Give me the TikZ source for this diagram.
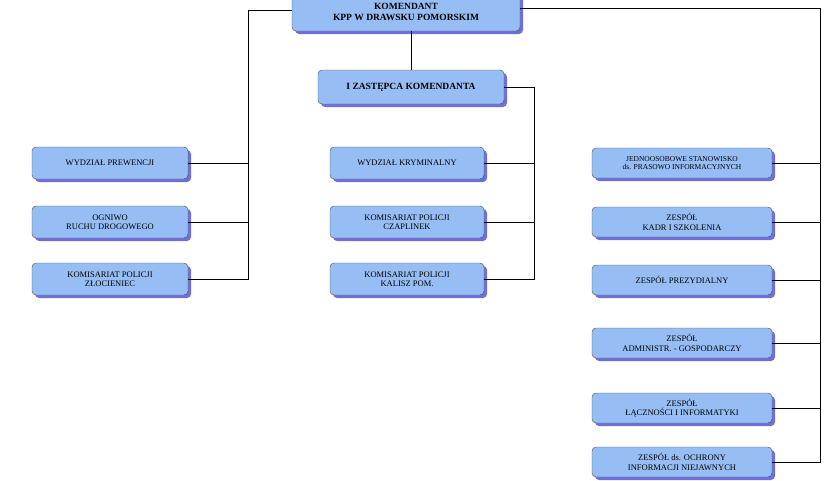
\documentclass[tikz,border=0pt]{standalone}
\usepackage{fontspec}
\setmainfont{Liberation Serif}
\usetikzlibrary{shadows}
\definecolor{boxfill}{RGB}{150,190,245}
\definecolor{boxshadow}{RGB}{110,110,220}
\tikzset{
  unit/.style={draw=black!70, fill=boxfill, rounded corners=4pt, align=center,
    font=\fontsize{8.5}{9.5}\selectfont, minimum height=32pt, inner sep=2pt,
    drop shadow={shadow xshift=3pt, shadow yshift=-3pt, fill=boxshadow, opacity=1}},
  lunit/.style={unit, minimum width=156pt},
  munit/.style={unit, minimum width=154pt},
  runit/.style={unit, minimum width=180pt, minimum height=30pt},
  link/.style={draw=black, line width=0.9pt}
}
\begin{document}
\begin{tikzpicture}[x=1pt,y=-1pt]
  \useasboundingbox (0,0) rectangle (840,480);

  \node[unit, minimum width=228pt, minimum height=38pt, font=\fontsize{9.5}{10.5}\selectfont\bfseries] (kom) at (406,12) {KOMENDANT\\KPP W DRAWSKU POMORSKIM};
  \node[unit, minimum width=186pt, minimum height=34pt, font=\fontsize{9.5}{10.5}\selectfont\bfseries] (zast) at (411,87) {I ZASTĘPCA KOMENDANTA};

  % Left column
  \node[lunit] (prew) at (110,163) {WYDZIAŁ PREWENCJI};
  \node[lunit] (ogn) at (110,222) {OGNIWO\\RUCHU DROGOWEGO};
  \node[lunit] (zlo) at (110,279) {KOMISARIAT POLICJI\\ZŁOCIENIEC};

  % Middle column
  \node[munit] (kryn) at (407,163) {WYDZIAŁ KRYMINALNY};
  \node[munit] (cza) at (407,222) {KOMISARIAT POLICJI\\CZAPLINEK};
  \node[munit] (kal) at (407,279) {KOMISARIAT POLICJI\\KALISZ POM.};

  % Right column
  \node[runit, font=\fontsize{7.5}{8.5}\selectfont] (pras) at (682,163) {JEDNOOSOBOWE STANOWISKO\\ds. PRASOWO INFORMACYJNYCH};
  \node[runit] (kadr) at (682,222) {ZESPÓŁ\\KADR I SZKOLENIA};
  \node[runit] (prez) at (682,280) {ZESPÓŁ PREZYDIALNY};
  \node[runit] (adm) at (682,343) {ZESPÓŁ\\ADMINISTR. - GOSPODARCZY};
  \node[runit] (lacz) at (682,408) {ZESPÓŁ\\ŁĄCZNOŚCI I INFORMATYKI};
  \node[runit] (ochr) at (682,462) {ZESPÓŁ ds. OCHRONY\\INFORMACJI NIEJAWNYCH};

  % Connectors
  \coordinate (lbus) at (248,10);
  \coordinate (mbus) at (534,87);
  \coordinate (rbus) at (820,8);
  \draw[link] (kom.west |- lbus) -- (lbus) -- (lbus |- zlo.east) -- (zlo.east);
  \foreach \n in {prew,ogn}
    \draw[link] (\n.east) -- (lbus |- \n.east);
  \draw[link] (kom.south -| zast.north) -- (zast.north);
  \draw[link] (zast.east) -- (mbus) -- (mbus |- kal.east) -- (kal.east);
  \foreach \n in {kryn,cza}
    \draw[link] (\n.east) -- (mbus |- \n.east);
  \draw[link] (kom.east |- rbus) -- (rbus) -- (rbus |- ochr.east) -- (ochr.east);
  \foreach \n in {pras,kadr,prez,adm,lacz}
    \draw[link] (\n.east) -- (rbus |- \n.east);
\end{tikzpicture}
\end{document}
